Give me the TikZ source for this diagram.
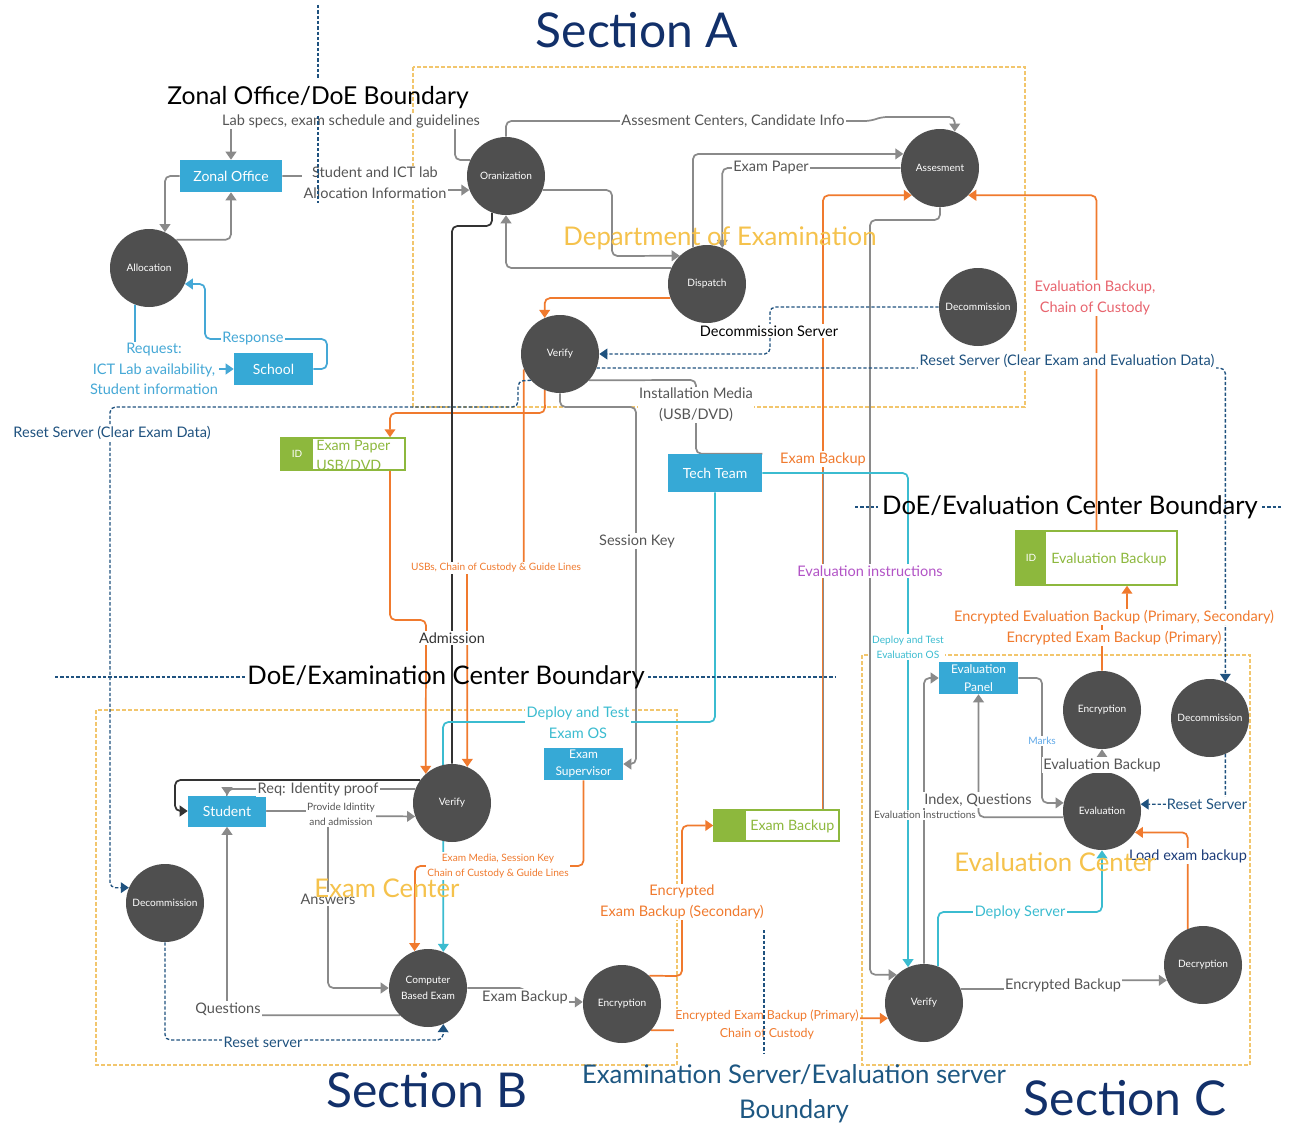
\documentclass[tikz,border=0pt]{standalone}
\usepackage{fontspec}
\setmainfont{Lato}
\usetikzlibrary{arrows.meta}
\pgfdeclarelayer{paper}
\pgfdeclarelayer{zones}
\pgfdeclarelayer{wires}
\pgfdeclarelayer{front}
\pgfsetlayers{paper,zones,wires,main,front}

\definecolor{cproc}{HTML}{4F4F4F}
\definecolor{cgray}{HTML}{8A8A8A}
\definecolor{ctext}{HTML}{555555}
\definecolor{cdark}{HTML}{333333}
\definecolor{cbox}{HTML}{36A9D6}
\definecolor{corange}{HTML}{F07A2E}
\definecolor{ccyan}{HTML}{3BBCD0}
\definecolor{cnavy}{HTML}{1F527F}
\definecolor{clight}{HTML}{45A8D6}
\definecolor{cgreen}{HTML}{8DB83D}
\definecolor{czone}{HTML}{F2C66D}
\definecolor{cyellow}{HTML}{F5C24C}
\definecolor{csection}{HTML}{12306A}
\definecolor{cserver}{HTML}{1D5782}
\definecolor{csalmon}{HTML}{E8646E}
\definecolor{cpurple}{HTML}{B253C6}
\definecolor{cmarks}{HTML}{5EA8E8}
\definecolor{cload}{HTML}{1B3B78}

\begin{document}
\begin{tikzpicture}[x=0.75pt,y=-0.75pt,
  proc/.style={circle, fill=cproc, minimum size=58.5pt, inner sep=0pt, text=white,
    font=\fontsize{7.6}{12}\selectfont, align=center},
  ent/.style={rectangle, fill=cbox, text=white, inner sep=0pt, align=center},
  storebox/.style={rectangle, draw=cgreen, line width=1.1pt, fill=white, inner sep=0pt},
  storeid/.style={rectangle, fill=cgreen, text=white, inner sep=0pt, font=\fontsize{7.5}{9}\selectfont},
  storetxt/.style={text=cgreen, inner sep=0pt, align=left, font=\fontsize{10.7}{15}\selectfont},
  lbl/.style={fill=white, inner sep=1pt, align=center, text=ctext, font=\fontsize{10.9}{15.5}\selectfont},
  slbl/.style={lbl, font=\fontsize{7.6}{11.5}\selectfont},
  wireG/.style={draw=cgray, line width=1.3pt, rounded corners=4pt},
  arrG/.style={wireG, -{Triangle[width=8pt,length=6pt]}},
  wireK/.style={draw=cdark, line width=1.3pt, rounded corners=4pt},
  arrK/.style={wireK, -{Triangle[width=8pt,length=6pt]}},
  arrO/.style={draw=corange, line width=1.3pt, rounded corners=4pt, -{Triangle[width=8pt,length=6pt]}},
  arrC/.style={draw=ccyan, line width=1.3pt, rounded corners=4pt, -{Triangle[width=8pt,length=6pt]}},
  arrB/.style={draw=clight, line width=1.3pt, rounded corners=4pt, -{Triangle[width=8pt,length=6pt]}},
  arrN/.style={draw=cnavy, line width=1pt, dash pattern=on 2.5pt off 1.5pt, rounded corners=4pt,
    -{Triangle[width=8pt,length=6pt]}},
  bndline/.style={draw=cnavy, line width=1pt, dash pattern=on 2.5pt off 1.5pt},
  zonebox/.style={draw=czone, line width=0.9pt, dash pattern=on 3pt off 1.5pt},
  bndtitle/.style={text=black, inner sep=1pt, font=\fontsize{19.2}{22}\selectfont},
  areatitle/.style={text=cyellow, inner sep=0pt, font=\fontsize{19.3}{22}\selectfont},
  sectitle/.style={text=csection, inner sep=0pt, font=\fontsize{36}{40}\selectfont}
]
\useasboundingbox (0,0) rectangle (1296,1124);
\begin{pgfonlayer}{paper}
  \fill[white] (0,0) rectangle (1296,1124);
\end{pgfonlayer}

% ---------- dashed area frames ----------
\begin{pgfonlayer}{zones}
  \draw[zonebox] (413,67) rectangle (1025,407);
  \draw[zonebox] (96,710) rectangle (677,1065);
  \draw[zonebox] (862,655) rectangle (1250,1065);
\end{pgfonlayer}

% ---------- processes ----------
\node[proc] (org)   at (506,176)  {Oranization};
\node[proc] (asm)   at (940,168)  {Assesment};
\node[proc] (disp)  at (707,284)  {Dispatch};
\node[proc] (decA)  at (978,307)  {Decommission};
\node[proc] (verA)  at (560,354)  {Verify};
\node[proc] (alloc) at (149,268)  {Allocation};
\node[proc] (verB)  at (452,803)  {Verify};
\node[proc] (decB)  at (165,903)  {Decommission};
\node[proc] (cbe)   at (428,988)  {Computer\\Based Exam};
\node[proc] (encB)  at (622,1004) {Encryption};
\node[proc] (encC)  at (1102,710) {Encryption};
\node[proc] (decC)  at (1210,718) {Decommission};
\node[proc] (evalC) at (1102,811) {Evaluation};
\node[proc] (decry) at (1203,965) {Decryption};
\node[proc] (verC)  at (924,1003) {Verify};

% ---------- external entities ----------
\node[ent, minimum width=76.5pt, minimum height=24pt, font=\fontsize{10.5}{12}\selectfont] (zonal) at (231,176) {Zonal Office};
\node[ent, minimum width=59.25pt, minimum height=24pt, font=\fontsize{10.5}{12}\selectfont] (school) at (273.5,369) {School};
\node[ent, minimum width=70.5pt, minimum height=28.5pt, font=\fontsize{10.5}{12}\selectfont] (tech) at (715,473) {Tech Team};
\node[ent, minimum width=59.25pt, minimum height=24pt, font=\fontsize{9}{12.75}\selectfont] (sup) at (583.5,764) {Exam\\Supervisor};
\node[ent, minimum width=58.5pt, minimum height=23.25pt, font=\fontsize{10.5}{12}\selectfont] (student) at (227,811) {Student};
\node[ent, minimum width=59.25pt, minimum height=24pt, font=\fontsize{9}{13.5}\selectfont] (panel) at (978.5,678) {Evaluation\\Panel};

% ---------- data stores ----------
\node[storebox, minimum width=93pt, minimum height=24pt] (pstore) at (343,454) {};
\node[storeid, minimum width=24pt, minimum height=24pt] (pid) at (297,454) {ID};
\node[storetxt, anchor=west] (ptxt) at (316,456) {Exam Paper\\USB/DVD};

\node[storebox, minimum width=120.75pt, minimum height=40.5pt] (estore) at (1096.5,558) {};
\node[storeid, minimum width=22.5pt, minimum height=40.5pt] (eid) at (1031,558) {ID};
\node[storetxt, anchor=west] (etxt) at (1051,559) {Evaluation Backup};

\node[storebox, minimum width=93.75pt, minimum height=23.25pt] (bstore) at (776.5,825.5) {};
\node[storeid, minimum width=24pt, minimum height=23.25pt] (bid) at (730,825.5) {};
\node[storetxt, anchor=west] (btxt) at (750,826) {Exam Backup};

% ---------- data flows ----------
\begin{pgfonlayer}{wires}
  % zonal office / school
  \draw[arrG] (org.156) -| (455,121) -| (zonal.north);
  \draw[arrG] (zonal.east) -- (375,176) -- (375,190) -- (org.201);
  \draw[arrG] (zonal.west) -| (alloc.66);
  \draw[arrG] (alloc.46) -| (zonal.south);
  \draw[arrB] (alloc.249) -- (135,369) -- (school.west);
  \draw[arrB] (school.east) -- (327,369) -- (327,339) -- (205,339) |- (alloc.336);

  % department of examination
  \draw[arrG] (org.north) |- (870,121) -- (882,117) -| (asm.68);
  \draw[arrG] (org.339) -| (612,256) -- (disp.134);
  \draw[arrG] (disp.156) -| (org.south);
  \draw[arrG] (disp.111) |- (asm.159);
  \draw[arrG] (asm.west) -| (disp.67);
  \draw[arrG] (asm.south) |- (870,220) |- (verC.134);
  \draw[arrG] (verA.south) |- (636,407) |- (sup.east);
  \draw[wireG] (verA.318) -- (696,380) |- (tech.north east);
  \draw[arrO] (disp.201) -| (verA.113);
  \draw[arrO] (verA.247) -- (545,413) -| ([xshift=35.25pt]pstore.north);
  \draw[arrO] ([xshift=35.25pt]pstore.south) |- (426,620) -- (verB.132);
  \draw[arrO] (verA.203) |- (467,568) -- (verB.67);
  \draw[arrO] ([xshift=34.875pt]bstore.north) |- (asm.224);
  \draw[draw=cgray, line width=0.6pt] ([xshift=34.875pt]bstore.north) -- (823,470);
  \draw[arrO] (estore.north) |- (asm.316);
  \draw[wireK] (org.249) -- (492,226) -| (verB.north);

  % tech team
  \draw[arrC] (tech.south) |- (443,722) -- (cbe.67);
  \draw[arrC] (tech.east) -| (verC.114);

  % decommissioning / reset
  \draw[arrN] (decA.west) -- (770,307) -- (770,354) -- (verA.east);
  \draw[arrN] (verA.339) -| (decC.67);
  \draw[arrN] (decC.293) |- (evalC.10);
  \draw[arrN] (verA.222) -- (518,381) -- (518,407) -- (110,407) |- (decB.157);
  \draw[arrN] (decB.south) |- (443,1040) -- (cbe.293);

  % exam center
  \draw[arrG] (verB.159) -| (student.north);
  \draw[arrK] (verB.144) -- (175,780) |- (student.west);
  \draw[arrG] (student.east) -- (341,811) -- (341,816) -- (verB.200);
  \draw[arrG] (student.east) -| (328,988) -- (cbe.west);
  \draw[arrG] (cbe.224) -| (student.south);
  \draw[arrG] (cbe.east) -- (525,988) -- (525,1002) -- (encB.177);
  \draw[arrO] (sup.south) |- (415,866) -- (cbe.110);
  \draw[arrO] (encB.46) -- (682,976) |- (bstore.west);
  \draw[arrO] (encB.318) -- (767,1030) -- (767,1018) -- (verC.203);

  % evaluation center
  \draw[arrG] (verC.north) |- (panel.west);
  \draw[arrG] (panel.east) -| (1042,803) -- (evalC.168);
  \draw[arrG] (evalC.189) -| (panel.south);
  \draw[arrG] (evalC.north) -- (encC.south);
  \draw[arrO] (encC.north) |- (1127,617) -- ([xshift=22.875pt]estore.south);
  \draw[arrO] (decry.113) |- (evalC.327);
  \draw[arrC] (verC.69) |- (1102,912) -- (evalC.south);
  \draw[arrG] (verC.21) -- (1063,989) -- (1063,980) -- (decry.203);
\end{pgfonlayer}

% ---------- flow labels ----------
\node[lbl] (l01) at (351,121) {Lab specs, exam schedule and guidelines};
\node[lbl] (l02) at (375,183) {Student and ICT lab\\Allocation Information};
\node[lbl] (l03) at (733,121) {Assesment Centers, Candidate Info};
\node[lbl] (l04) at (771,168) {Exam Paper};
\node[lbl, text=black] (l05) at (769,331) {Decommission Server};
\node[lbl, text=cnavy] (l06) at (1067,361) {Reset Server (Clear Exam and Evaluation Data)};
\node[lbl, text=csalmon] (l07) at (1095,298) {Evaluation Backup,\\Chain of Custody};
\node[lbl] (l08) at (696,405) {Installation Media\\(USB/DVD)};
\node[lbl, text=cnavy] (l09) at (112,433) {Reset Server (Clear Exam Data)};
\node[lbl, text=clight] (l10) at (154,369) {Request:\\ICT Lab availability,\\Student information};
\node[lbl, text=clight] (l11) at (253,339) {Response};
\node[lbl, text=corange] (l12) at (823,459) {Exam Backup};
\node[lbl] (l13) at (637,541) {Session Key};
\node[slbl, text=corange] (l14) at (496,568) {USBs, Chain of Custody \& Guide Lines};
\node[lbl, text=cpurple] (l15) at (870,571) {Evaluation instructions};
\node[lbl, text=cdark] (l16) at (452,638) {Admission};
\node[slbl, text=ccyan] (l17) at (908,647) {Deploy and Test\\Evaluation OS};
\node[lbl, text=corange] (l18) at (1114,617) {Encrypted Evaluation Backup (Primary, Secondary)};
\node[lbl, text=corange] (l19) at (1114,638) {Encrypted Exam Backup (Primary)};
\node[lbl, text=ccyan] (l20) at (578,723) {Deploy and Test\\Exam OS};
\node[lbl] (l21) at (318,789) {Req: Identity proof};
\node[slbl] (l22) at (341,814) {Provide Idintity\\and admission};
\node[slbl, text=corange] (l23) at (498,866) {Exam Media, Session Key\\Chain of Custody \& Guide Lines};
\node[lbl] (l24) at (328,899) {Answers};
\node[lbl] (l25) at (228,1009) {Questions};
\node[lbl, text=cnavy] (l26) at (263,1042) {Reset server};
\node[lbl] (l27) at (525,997) {Exam Backup};
\node[lbl, text=corange] (l28) at (682,902) {Encrypted\\Exam Backup (Secondary)};
\node[lbl, text=corange, font=\fontsize{9.3}{13.5}\selectfont] (l29) at (767,1025) {Encrypted Exam Backup (Primary)\\Chain of Custody};
\node[slbl, text=cmarks] (l30) at (1042,741) {Marks};
\node[lbl] (l31) at (1102,765) {Evaluation Backup};
\node[lbl] (l32) at (978,800) {Index, Questions};
\node[slbl] (l33) at (925,815) {Evaluation Instructions};
\node[lbl, text=cnavy] (l34) at (1207,804) {Reset Server};
\node[lbl, text=cload] (l35) at (1188,856) {Load exam backup};
\node[lbl, text=ccyan] (l36) at (1020,912) {Deploy Server};
\node[lbl] (l37) at (1063,985) {Encrypted Backup};

% ---------- area names ----------
\node[areatitle] (tDoE) at (720,238) {Department of Examination};
\node[areatitle] (tEC)  at (387,888) {Exam Center};
\node[areatitle] (tEvC) at (1055,862) {Evaluation Center};

% ---------- trust boundaries and section titles ----------
\begin{pgfonlayer}{front}
  \draw[bndline] (318,5) -- (318,78);
  \draw[bndline] (318,116) -- (318,203);
  \draw[bndline] (55,677) -- (245,677);
  \draw[bndline] (648,677) -- (835,677);
  \draw[bndline] (855,507) -- (878,507);
  \draw[bndline] (1262,507) -- (1283,507);
  \draw[bndline] (764,930) -- (764,1053);
  \node[bndtitle, font=\fontsize{18.5}{22}\selectfont] (bZonal) at (318,98)  {Zonal Office/DoE Boundary};
  \node[bndtitle] (bExam)  at (446,677) {DoE/Examination Center Boundary};
  \node[bndtitle] (bEval)  at (1070,507) {DoE/Evaluation Center Boundary};
  \node[text=cserver, align=center, font=\fontsize{19.3}{26}\selectfont] (bServer) at (794,1094)
    {Examination Server/Evaluation server\\Boundary};
  \node[sectitle] (sA) at (637,30)   {Section A};
  \node[sectitle] (sB) at (427,1090) {Section B};
  \node[sectitle] (sC) at (1125,1098) {Section C};
\end{pgfonlayer}
\end{tikzpicture}
\end{document}
